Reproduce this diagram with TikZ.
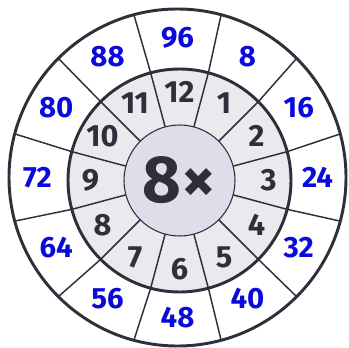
\documentclass[tikz,border=0pt]{standalone}
\usepackage{fontspec}
\setmainfont{Fira Sans}
\usetikzlibrary{calc}
\definecolor{ringline}{HTML}{2F2F3B}
\definecolor{ringfill}{HTML}{E9E9EE}
\definecolor{hubfill}{HTML}{DEDEEB}
\definecolor{prodblue}{HTML}{0A0ADC}
\tikzset{
  factor/.style={inner sep=0pt, text=ringline, font=\bfseries\fontsize{23}{23}\selectfont},
  product/.style={inner sep=0pt, text=prodblue, font=\bfseries\fontsize{22}{22}\selectfont},
  hubtext/.style={inner sep=0pt, text=ringline, font=\bfseries\fontsize{50}{50}\selectfont}
}
\begin{document}
\begin{tikzpicture}[x=0.75pt,y=0.75pt]
    % --- parameters ---
    \def\Rout{168.5}   % outer circle
    \def\Rmid{111.5}   % ring between products and factors
    \def\Rhub{55.5}    % centre disc
    \useasboundingbox (0,0) rectangle (349,347);
    \coordinate (O) at (177.5,169.5);   % centre of the outer circle
    \coordinate (C) at (179.5,166.5);   % centre of the inner rings

    % --- fills ---
    \fill[white] (O) circle (\Rout);
    \fill[ringfill] (C) circle (\Rmid);

    % --- spokes between the twelve sectors ---
    \foreach \k in {0,...,11} {
        \pgfmathsetmacro\ang{15+30*\k}
        \draw[ringline, line width=1.1pt]
            ($(C)+(\ang:\Rhub)$) -- ($(C)+(\ang:\Rmid)$) -- ($(O)+(\ang:\Rout)$);
    }

    % --- circles ---
    \draw[ringline, line width=2.2pt] (O) circle (\Rout);
    \draw[ringline, line width=2.2pt] (C) circle (\Rmid);
    \draw[ringline, fill=hubfill, line width=0.8pt] (C) circle (\Rhub);

    % --- factors and products ---
    \foreach \n in {1,...,12} {
        \pgfmathsetmacro\ang{90-30*\n}
        \pgfmathtruncatemacro\prod{8*\n}
        \node[factor] (f\n) at ($(C)+(\ang:89)$) {\n};
        \node[product] (p\n) at ($(O)+(\ang:140)$) {\prod};
    }
    \node[hubtext] (hub) at (C) {8×};
\end{tikzpicture}
\end{document}
